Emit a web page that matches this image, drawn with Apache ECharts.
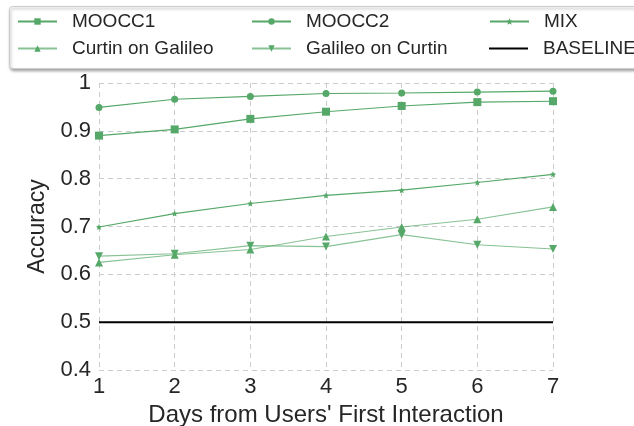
<!DOCTYPE html>
<html><head><meta charset="utf-8">
<script src="https://cdn.jsdelivr.net/npm/echarts@6/dist/echarts.min.js"></script>
<style>html,body{margin:0;padding:0;background:#fff}#c{width:634px;height:426px}</style>
</head><body><div id="c"></div>
<script>
var days = [1, 2, 3, 4, 5, 6, 7];
var yTicks = [0.4, 0.5, 0.6, 0.7, 0.8, 0.9, 1.0];
var moocc1 = [0.890, 0.903, 0.925, 0.940, 0.952, 0.960, 0.962];
var moocc2 = [0.949, 0.966, 0.972, 0.978, 0.979, 0.981, 0.983];
var mix = [0.699, 0.727, 0.748, 0.765, 0.776, 0.792, 0.809];
var curtinOnGalileo = [0.625, 0.641, 0.652, 0.679, 0.699, 0.715, 0.741];
var galileoOnCurtin = [0.638, 0.643, 0.660, 0.658, 0.683, 0.662, 0.653];
var baseline = [0.5, 0.5, 0.5, 0.5, 0.5, 0.5, 0.5];

var FONT = 'Liberation Sans, Arial, sans-serif';
var green = '#55a868';
function pairs(arr){ return days.map(function(d,i){return [d, arr[i]];}); }
function mk(name, arr, symbol, size, op){
  return {name:name, type:'line', data:pairs(arr), symbol:symbol, symbolSize:size,
    showSymbol:true, animation:false,
    lineStyle:{color:green, width:1.1, opacity:op},
    itemStyle:{color:green, opacity:1}};
}
var starPath = 'path://M0,-10L2.9,-4 9.5,-3.1 4.7,1.5 5.9,8.1 0,5 -5.9,8.1 -4.7,1.5 -9.5,-3.1 -2.9,-4Z';
var downTri = 'path://M-10,-8L10,-8 0,9Z';
var series = [
  mk('MOOCC1', moocc1, 'rect', 8, 1),
  mk('MOOCC2', moocc2, 'circle', 7, 1),
  mk('MIX', mix, starPath, 6, 1),
  mk('Curtin on Galileo', curtinOnGalileo, 'triangle', 8, 0.7),
  mk('Galileo on Curtin', galileoOnCurtin, downTri, 8, 0.7),
  {name:'BASELINE', type:'line', data:pairs(baseline), symbol:'none', animation:false,
   lineStyle:{color:'#000', width:2}, itemStyle:{color:'#000'}}
];
var names = ['MOOCC1','MOOCC2','MIX','Curtin on Galileo','Galileo on Curtin','BASELINE'];
var legPos = [[17,12],[251,12],[489,12],[17,39],[251,39],[489,39]];
var legends = names.map(function(n,i){
  var d = (n === 'BASELINE') ? {name:n, icon:'path://M0,0H40V2H0Z'} : {name:n};
  return {data:[d], left:legPos[i][0], top:legPos[i][1], itemWidth:39, itemHeight:(n==='BASELINE'?2:8),
    itemGap:8, padding:0, textStyle:{fontSize:19, color:'#262626', fontFamily:FONT, padding:[0,0,0,10]}};
});
var chart = echarts.init(document.getElementById('c'), null, {renderer:'canvas'});
chart.setOption({
  backgroundColor:'#fff',
  animation:false,
  graphic:[{type:'rect', left:9, top:6, shape:{width:640, height:62, r:3},
    style:{fill:'#fff', stroke:'#cccccc', lineWidth:1, shadowBlur:3, shadowOffsetX:1, shadowOffsetY:2, shadowColor:'rgba(0,0,0,0.35)'}, z:-1}],
  legend: legends,
  grid:{left:99, right:81, top:83, bottom:56, containLabel:false, outerBoundsMode:'none'},
  xAxis:{type:'value', min:1, max:7, interval:1,
    name:"Days from Users' First Interaction", nameLocation:'middle', nameGap:30,
    nameTextStyle:{fontSize:24, color:'#262626', fontFamily:FONT},
    axisLine:{show:false}, axisTick:{show:false},
    axisLabel:{fontSize:22, color:'#262626', margin:6, fontFamily:FONT},
    splitLine:{show:true, lineStyle:{color:'#cccccc', type:[5,4], width:1}}},
  yAxis:{type:'value', min:0.4, max:1.0, interval:0.1,
    name:'Accuracy', nameLocation:'middle', nameGap:45,
    nameTextStyle:{fontSize:23, color:'#262626', fontFamily:FONT},
    axisLine:{show:false}, axisTick:{show:false},
    axisLabel:{fontSize:22, color:'#262626', margin:8, fontFamily:FONT,
      formatter:function(v){ var r=Math.round(v*10)/10; return r===1?'1':String(r);}},
    splitLine:{show:true, lineStyle:{color:'#cccccc', type:[5,4], width:1}}},
  series: series
});
</script></body></html>
